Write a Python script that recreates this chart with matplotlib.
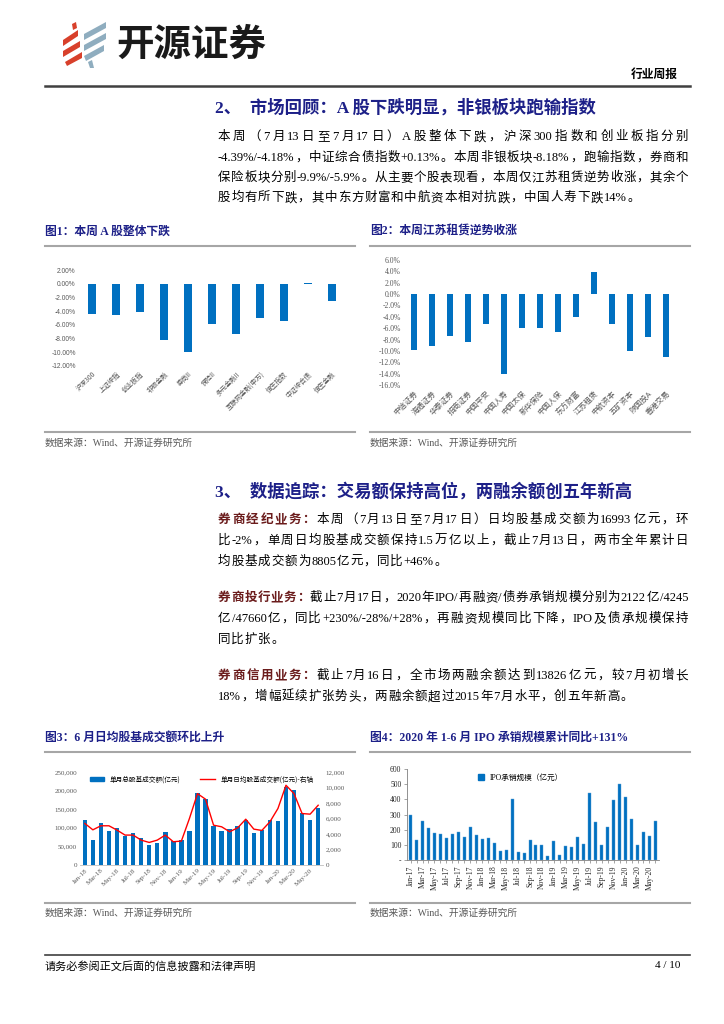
import matplotlib
matplotlib.use("Agg")
import matplotlib.pyplot as plt
from matplotlib.patches import Polygon, Patch
from matplotlib.lines import Line2D
import numpy as np

W, H = 724, 1024
CJK = ['Liberation Serif', 'Noto Sans CJK SC']
SANS = ['Liberation Sans', 'Noto Sans CJK SC']
plt.rcParams['font.family'] = CJK

NAVY = '#1d2088'
BLUE = '#0070c0'
GREY = '#595959'

# -------------------------------
# data
# -------------------------------
fig1_names = ["沪深300", "上证综指", "创业板指", "非银金融", "券商II", "保险II",
              "多元金融II", "互联网金融(申万)", "恒生指数", "中证综合债", "恒生金融"]
fig1_chg = [-4.39, -4.50, -4.18, -8.18, -9.90, -5.90, -7.35, -5.00, -5.40, 0.13, -2.45]

fig2_names = ["中信证券", "海通证券", "华泰证券", "招商证券", "中国平安", "中国人寿",
              "中国太保", "新华保险", "中国人保", "东方财富", "江苏租赁", "中航资本",
              "五矿资本", "陕国投A", "香港交易"]
fig2_chg = [-9.9, -9.1, -7.35, -8.4, -5.35, -14.0, -5.95, -5.95, -6.6, -3.95,
            3.95, -5.2, -10.1, -7.5, -11.0]

fig3_total = [120500, 67000, 111600, 92000, 100000, 77700, 84800, 73000, 55000, 60000,
              87500, 64000, 68000, 92000, 194000, 177000, 104000, 92000, 96000, 104000,
              121000, 85000, 93000, 120000, 118000, 209000, 202000, 139000, 120000, 154000]
fig3_daily = [5360, 4540, 5060, 5060, 4500, 3860, 3860, 3210, 2910, 3210,
              3860, 3000, 3090, 6000, 9210, 8490, 5140, 4930, 4290, 4800,
              5910, 4630, 4460, 5570, 7290, 10290, 9210, 6640, 6560, 7710]
fig3_ticklabels = ["Jan-18", "Mar-18", "May-18", "Jul-18", "Sep-18", "Nov-18",
                   "Jan-19", "Mar-19", "May-19", "Jul-19", "Sep-19", "Nov-19",
                   "Jan-20", "Mar-20", "May-20"]

fig4_ipo = [297, 130, 259, 209, 176, 169, 147, 169, 187, 154, 220, 163,
            136, 143, 114, 57, 64, 402, 53, 48, 132, 97, 97, 26,
            125, 31, 90, 86, 154, 105, 442, 253, 97, 220, 396, 501,
            413, 270, 97, 187, 158, 259]
fig4_ticklabels = ["Jan-17", "Mar-17", "May-17", "Jul-17", "Sep-17", "Nov-17",
                   "Jan-18", "Mar-18", "May-18", "Jul-18", "Sep-18", "Nov-18",
                   "Jan-19", "Mar-19", "May-19", "Jul-19", "Sep-19", "Nov-19",
                   "Jan-20", "Mar-20", "May-20"]

para1 = ["本周（7 月 13 日至 7 月 17 日）A 股整体下跌，沪深 300 指数和创业板指分别",
         "-4.39%/-4.18%，中证综合债指数+0.13%。本周非银板块-8.18%，跑输指数，券商和",
         "保险板块分别-9.9%/-5.9%。从主要个股表现看，本周仅江苏租赁逆势收涨，其余个",
         "股均有所下跌，其中东方财富和中航资本相对抗跌，中国人寿下跌 14%。"]
para2 = [("券商经纪业务：", "本周（7 月 13 日至 7 月 17 日）日均股基成交额为 16993 亿元，环"),
         ("", "比-2%，单周日均股基成交额保持 1.5 万亿以上，截止 7 月 13 日，两市全年累计日"),
         ("", "均股基成交额为 8805 亿元，同比+46%。")]
para3 = [("券商投行业务：", "截止 7 月 17 日，2020 年 IPO/再融资/债券承销规模分别为 2122 亿/4245"),
         ("", "亿/47660 亿，同比+230%/-28%/+28%，再融资规模同比下降，IPO 及债承规模保持"),
         ("", "同比扩张。")]
para4 = [("券商信用业务：", "截止 7 月 16 日，全市场两融余额达到 13826 亿元，较 7 月初增长"),
         ("", "18%，增幅延续扩张势头，两融余额超过 2015 年 7 月水平，创五年新高。")]

# -------------------------------
# helpers
# -------------------------------
fig = plt.figure(figsize=(W / 100, H / 100), dpi=100)
fig.patch.set_facecolor('white')
renderer = fig.canvas.get_renderer()


def box(left, top, width, height):
    return [left / W, 1 - (top + height) / H, width / W, height / H]


def ftext(x, y, s, **kw):
    return fig.text(x / W, 1 - y / H, s, va='center', **kw)


def hline(x0, x1, y, color='#a6a6a6', lw=1.5):
    fig.add_artist(Line2D([x0 / W, x1 / W], [1 - y / H, 1 - y / H], color=color, lw=lw))


def tokens(s):
    out, buf = [], ""
    for ch in s:
        if ch == " ":
            if buf:
                out.append(buf)
                buf = ""
        elif ord(ch) < 128:
            buf += ch
        else:
            if buf:
                out.append(buf)
                buf = ""
            out.append(ch)
    if buf:
        out.append(buf)
    return out


def text_line(x0, x1, y, lead, body, fs=9, justify=True):
    """draw one line, spreading the tokens over x0..x1"""
    items = []
    for tok in tokens(lead):
        items.append((tok, dict(color='#6b1c1c', fontweight='bold')))
    for tok in tokens(body):
        items.append((tok, dict(color='black')))
    arts = []
    for tok, kw in items:
        t = ftext(x0, y, tok, fontsize=fs, family=CJK, **kw)
        arts.append((t, t.get_window_extent(renderer).width))
    total = sum(w for _, w in arts)
    gap = (x1 - x0 - total) / (len(arts) - 1) if justify and len(arts) > 1 else 0.8
    x = x0
    for t, w in arts:
        t.set_x(x / W)
        x += w + gap


# -------------------------------
# page header
# -------------------------------
red_stripes = [[(63, 40), (78, 30), (78, 36), (63, 46)],
               [(63, 51), (80, 41), (80, 47), (63, 57)],
               [(65, 62), (82, 52), (82, 58), (67, 66)],
               [(72, 24), (76, 22), (77, 28), (73, 30)]]
blue_stripes = [[(84, 34), (106, 22), (106, 28), (84, 40)],
                [(84, 45), (106, 33), (106, 39), (84, 51)],
                [(84, 56), (104, 45), (104, 51), (86, 61)],
                [(88, 62), (92, 60), (94, 68), (90, 68)]]
for pts, col in [(p, '#d8402b') for p in red_stripes] + [(p, '#8fadbf') for p in blue_stripes]:
    fig.add_artist(Polygon([(a / W, 1 - b / H) for a, b in pts], closed=True,
                           facecolor=col, edgecolor='none'))
ftext(116, 44, "开源证券", fontsize=27, fontweight='bold', family=['Noto Sans CJK SC'], color='#1a1a1a')
ftext(678, 74, "行业周报", fontsize=8.5, fontweight='bold', family=['Noto Sans CJK SC'], ha='right')
hline(45, 690, 86, color='#404040', lw=1.8)

# -------------------------------
# section 2
# -------------------------------
ftext(215, 108, "2、  市场回顾：A 股下跌明显，非银板块跑输指数", fontsize=12.5,
      fontweight='bold', color=NAVY, family=CJK)
ys = [137, 158, 178, 198]
for i, (ln, y) in enumerate(zip(para1, ys)):
    text_line(218, 688, y, "", ln, justify=i < len(para1) - 1)

# captions
ftext(45, 232, "图1：本周 A 股整体下跌", fontsize=8.5, fontweight='bold', color=NAVY, family=CJK)
ftext(370, 232, "图2：本周江苏租赁逆势收涨", fontsize=8.5, fontweight='bold', color=NAVY, family=CJK)
hline(45, 355, 246)
hline(370, 690, 246)

# chart 1
ax1 = fig.add_axes(box(80, 270, 264, 96))
x1 = np.arange(len(fig1_chg))
ax1.bar(x1, fig1_chg, width=0.3, color=BLUE)
ax1.set_ylim(-12, 2)
ax1.set_xlim(-0.5, len(fig1_chg) - 0.5)
ax1.set_yticks(np.arange(-12, 2.1, 2))
ax1.set_yticklabels([f"{v:.2f}%" for v in np.arange(-12, 2.1, 2)], family=SANS)
ax1.set_xticks(x1)
ax1.set_xticklabels(fig1_names, rotation=45, ha='right', rotation_mode='anchor',
                    family=['Noto Sans CJK SC'])
ax1.tick_params(length=0, labelsize=4.8, labelcolor=GREY, pad=3)
for s in ax1.spines.values():
    s.set_visible(False)

# chart 2
ax2 = fig.add_axes(box(405, 260, 270, 125))
x2 = np.arange(len(fig2_chg))
ax2.bar(x2, fig2_chg, width=0.33, color=BLUE)
ax2.set_ylim(-16, 6)
ax2.set_xlim(-0.5, len(fig2_chg) - 0.5)
ax2.set_yticks(np.arange(-16, 6.1, 2))
ax2.set_yticklabels([f"{v:.1f}%" for v in np.arange(-16, 6.1, 2)], family=CJK)
ax2.set_xticks(x2)
ax2.set_xticklabels(fig2_names, rotation=45, ha='right', rotation_mode='anchor',
                    family=['Noto Sans CJK SC'])
ax2.tick_params(length=0, labelsize=5.5, labelcolor=GREY, pad=3)
for s in ax2.spines.values():
    s.set_visible(False)

hline(45, 355, 432)
hline(370, 690, 432)
ftext(45, 443, "数据来源：Wind、开源证券研究所", fontsize=7, color=GREY, family=CJK)
ftext(370, 443, "数据来源：Wind、开源证券研究所", fontsize=7, color=GREY, family=CJK)

# -------------------------------
# section 3
# -------------------------------
ftext(215, 492, "3、  数据追踪：交易额保持高位，两融余额创五年新高", fontsize=12.5,
      fontweight='bold', color=NAVY, family=CJK)
for para, ys in [(para2, [520, 541, 562]), (para3, [598, 619, 640]), (para4, [676, 697])]:
    for i, ((lead, body), y) in enumerate(zip(para, ys)):
        text_line(218, 688, y, lead, body, justify=i < len(para) - 1)

ftext(45, 738, "图3：6 月日均股基成交额环比上升", fontsize=8.5, fontweight='bold', color=NAVY, family=CJK)
ftext(370, 738, "图4：2020 年 1-6 月 IPO 承销规模累计同比+131%", fontsize=8.5,
      fontweight='bold', color=NAVY, family=CJK)
hline(45, 355, 752)
hline(370, 690, 752)

# chart 3
ax3 = fig.add_axes(box(80, 772, 243, 93))
x3 = np.arange(len(fig3_total))
ax3.bar(x3, fig3_total, width=0.55, color=BLUE)
ax3.set_ylim(0, 250000)
ax3.set_xlim(-0.6, len(fig3_total) - 0.4)
ax3.set_yticks(np.arange(0, 250001, 50000))
ax3.set_yticklabels([f"{v:,}" for v in range(0, 250001, 50000)])
ax3.set_xticks(x3[::2])
ax3.set_xticklabels(fig3_ticklabels, rotation=45, ha='right', rotation_mode='anchor')
ax3b = ax3.twinx()
ax3b.plot(x3, fig3_daily, color='#ff0000', lw=1.0)
ax3b.set_ylim(0, 12000)
ax3b.set_yticks(np.arange(0, 12001, 2000))
ax3b.set_yticklabels([f"{v:,}" for v in range(0, 12001, 2000)])
for a in (ax3, ax3b):
    a.tick_params(length=0, labelsize=5, labelcolor=GREY, pad=2)
    for s in a.spines.values():
        s.set_visible(False)
ax3.spines['bottom'].set_visible(True)
ax3.spines['bottom'].set_color('#bfbfbf')
ax3.spines['bottom'].set_linewidth(0.6)
ax3.legend(handles=[Patch(color=BLUE, label="单月总股基成交额(亿元)"),
                    Line2D([], [], color='#ff0000', lw=1.0, label="单月日均股基成交额(亿元)-右轴")],
           loc='upper center', bbox_to_anchor=(0.5, 1.03), ncol=2, frameon=False,
           handlelength=2.2, handleheight=0.6, columnspacing=3,
           prop={'family': ['Noto Sans CJK SC'], 'size': 4.8})

# chart 4
ax4 = fig.add_axes(box(407, 769, 252, 91))
x4 = np.arange(len(fig4_ipo))
ax4.bar(x4, fig4_ipo, width=0.5, color=BLUE, edgecolor='#5aa0d8', linewidth=0.3)
ax4.set_ylim(0, 600)
ax4.set_xlim(-0.6, len(fig4_ipo) - 0.4)
ax4.set_yticks(np.arange(0, 601, 100))
ax4.set_yticklabels(["-"] + [str(v) for v in range(100, 601, 100)])
ax4.set_xticks(x4[::2])
ax4.set_xticklabels(fig4_ticklabels, rotation=90)
ax4.set_xticks(x4, minor=True)
ax4.tick_params(axis='y', length=2, width=0.5, color='#808080', labelsize=5.5, labelcolor='#262626', pad=2)
ax4.tick_params(axis='x', which='both', length=2, width=0.5, color='#808080', labelsize=5.5,
                labelcolor='#262626', pad=2)
for s in ['top', 'right']:
    ax4.spines[s].set_visible(False)
for s in ['left', 'bottom']:
    ax4.spines[s].set_color('#808080')
    ax4.spines[s].set_linewidth(0.6)
ax4.legend(handles=[Patch(color=BLUE, label="IPO承销规模（亿元）")], loc='upper center',
           bbox_to_anchor=(0.45, 1.02), frameon=False, handlelength=0.8, handleheight=0.8,
           prop={'family': CJK, 'size': 5.5})

hline(45, 355, 903)
hline(370, 690, 903)
ftext(45, 913, "数据来源：Wind、开源证券研究所", fontsize=7, color=GREY, family=CJK)
ftext(370, 913, "数据来源：Wind、开源证券研究所", fontsize=7, color=GREY, family=CJK)

# footer
hline(45, 690, 955, color='#404040', lw=1.2)
ftext(45, 966, "请务必参阅正文后面的信息披露和法律声明", fontsize=8, family=CJK)
ftext(680, 966, "4 / 10", fontsize=8, family=CJK, ha='right')

fig.savefig("out.png", dpi=100, facecolor='white')
